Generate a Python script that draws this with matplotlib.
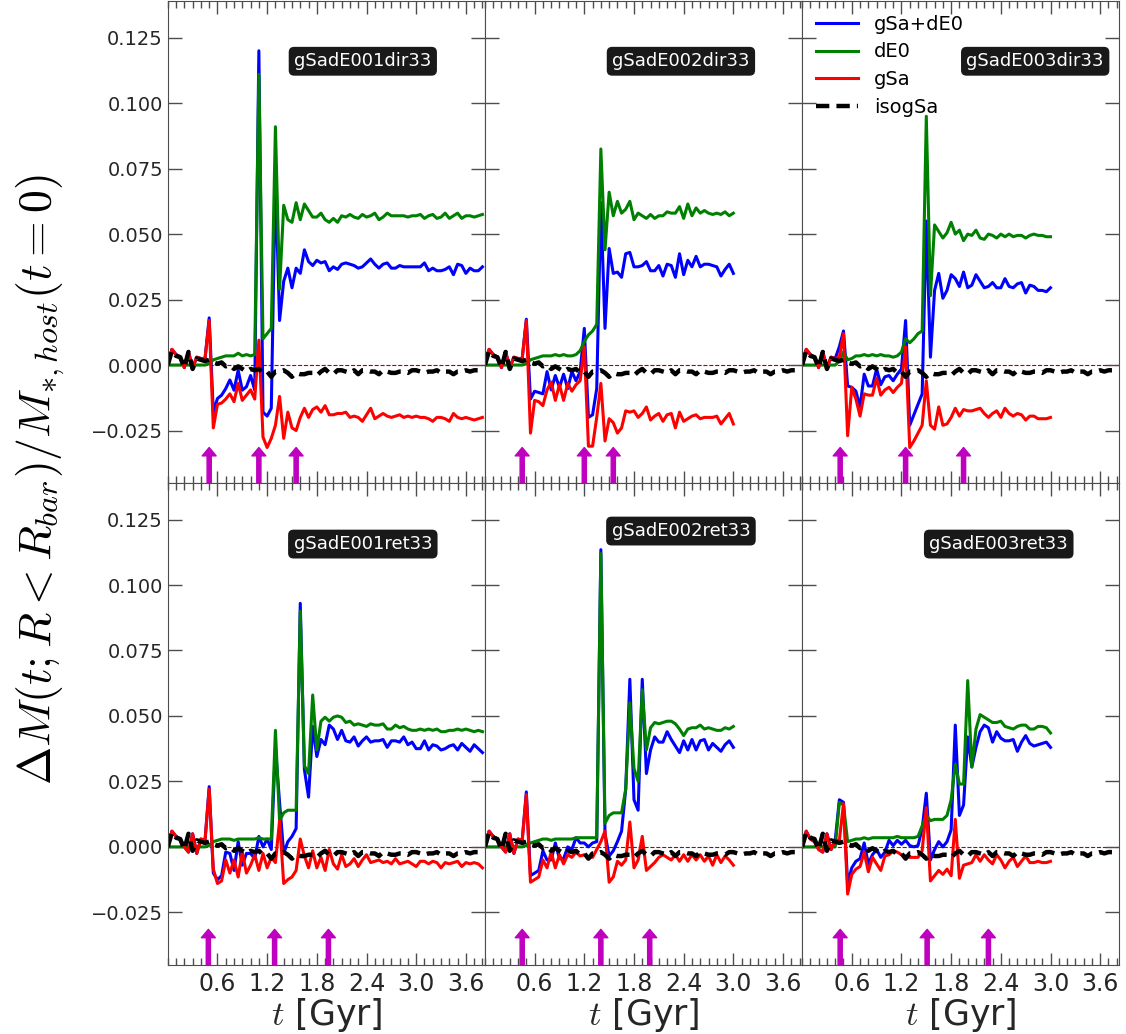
import numpy as np
import matplotlib
matplotlib.use("Agg")
import matplotlib.pyplot as plt
from matplotlib.ticker import MultipleLocator

plt.rcParams['font.family'] = 'DejaVu Sans'
plt.rcParams['mathtext.fontset'] = 'cm'

# time step of the snapshots [Gyr]
dt = 0.05

# all values below are in units of 1e-3
iso_gsa = [0, 5.5, 3.5, 3, -1, 5, -1.5, 2.5, 2, 1.5,
           2, 1, 0.5, 1, -0.5, 0, -1.5, -0.5, -1.5, -2.5,
           -1.5, -2, -1.5, -3, -2.5, -4.5, -2.5, -2.5, -2, -3,
           -4.5, -3, -3.5, -3.5, -3, -3, -4, -2.5, -1.5, -3,
           -3.5, -2, -2, -2.5, -3, -2, -3.5, -2, -2, -2.5,
           -2.5, -3.5, -2, -2.5, -3, -3, -2.5, -2.5, -3, -2,
           -2, -2.5, -3, -2.5, -2.5, -2, -3, -2.5, -2.5, -3.5,
           -2.5, -2.5, -2, -2.5, -2, -2]

# gSadE001dir33
blue_dir1 = [0, 6, 4, 3, -1, 5, -1, 3, 2.5, 2.5,
             18, -18, -12.8, -11.5, -9, -5.7, -9.6, -2, -9.6, -8.3,
             -4, -9.6, 120, -18, -19.5, -16.5, 72, 17, 32, 37,
             29.5, 37, 35, 44, 39.5, 38, 40, 39, 39.5, 36,
             37.5, 36.5, 38.5, 39, 38.5, 38, 37, 37.5, 39, 40.5,
             38.5, 37, 38.5, 39, 37, 37, 38, 37.5, 37.5, 37.5,
             37.5, 37.5, 39, 36, 37, 36, 36, 36.5, 37.5, 34.5,
             38.5, 38, 35, 37, 36, 36, 37.5]
green_dir1 = [0, 0, 0, 0, 0, 0, 0, 0, 0, 0,
              0.5, 2, 2.5, 3, 3.5, 3.5, 3.5, 4.5, 3.5, 4,
              3.5, 4, 111, 10, 12, 14, 91, 29, 61, 55.5,
              54.5, 62, 55.5, 61.5, 59, 56.5, 56.5, 58, 55.5, 54.5,
              56, 54.5, 57, 56.5, 57.5, 56.5, 56, 57.5, 56.5, 57,
              58, 55.5, 56.5, 58, 57, 57, 57, 57, 56.5, 57,
              57, 57.5, 56, 57, 57.5, 56, 56.5, 58, 56, 57,
              58, 56, 57, 57, 56.5, 57, 57.5]
red_dir1 = [0, 6, 4, 3, -1, 5, -1, 3, 2.5, 2.5,
            17, -24, -15, -14.5, -13, -11, -14, -7, -13.5, -11.5,
            -9.5, -13, 9.5, -27.5, -31.5, -28, -23, -12, -28, -18,
            -24, -25, -20, -16.5, -20, -17, -16, -18, -15.5, -19,
            -19, -18.5, -18.5, -18, -20, -19.5, -20, -21.5, -19, -16.5,
            -20.5, -19.5, -18.5, -19.5, -20, -19.5, -19, -20, -19.5, -20,
            -19.5, -20, -20, -20.5, -21.5, -20, -20, -20.5, -21.5, -18.5,
            -20, -20.5, -20, -20.5, -21, -20.5, -20]
arrows_dir1 = [0.5, 1.1, 1.55]

# gSadE002dir33
blue_dir2 = [0, 6, 4, 3, -1, 5, -1, 3, 2.5, 2.5,
             17.5, -13, -10, -10.5, -11, -2.5, -9.5, -4, -8.5, -3.5,
             -9, -2.5, -6, -2.5, 14, -20, -19, -9, 62, 14,
             44.5, 35, 35.5, 33.5, 42.5, 43, 37.5, 37.5, 38, 39.5,
             36, 36, 38, 34, 38.5, 38, 33.5, 42.5, 34.5, 40,
             37.5, 41.5, 37.5, 38.5, 38.5, 38, 37.5, 34, 36.5, 38.5,
             35]
green_dir2 = [0, 0, 0, 0, 0, 0, 0, 0, 0, 0,
              0.5, 2, 2.5, 3, 3.5, 3.5, 3.5, 4, 3.5, 4,
              3.5, 3.5, 4, 5.5, 9, 11.5, 13, 15.5, 82.5, 44,
              66, 57, 62.5, 58, 59.5, 62.5, 55.5, 58, 57, 56,
              57.5, 56, 57, 57, 58.5, 58, 58, 60.5, 56, 61.5,
              57, 60, 58, 59, 58, 57.5, 58, 57.5, 58.5, 57,
              58]
red_dir2 = [0, 6, 4, 3, -1, 5, -1, 3, 2.5, 2.5,
            17, -26, -13.5, -14, -15.5, -9.5, -6.5, -13.5, -7.5, -13.5,
            -7, -10, -7.5, -6, 7, -31, -31, -20, -7, -29,
            -20.5, -22, -26, -24, -17.5, -18, -17.5, -20, -18.5, -16,
            -21, -19.5, -18.5, -21.5, -19, -18.5, -24, -18, -21.5, -20.5,
            -19.5, -19, -20.5, -20, -20, -20, -19.5, -22.5, -20.5, -18.5,
            -22.5]
arrows_dir2 = [0.45, 1.2, 1.55]

# gSadE003dir33
blue_dir3 = [0, 6, 4, 3, -1, 5, -1, 3, 2.5, 7,
             13, -8, -8.5, -10, -16, -3.5, -8, -8, -1.5, -7.5,
             -4.5, -4, -6, -3.5, -1.5, 17, -23, -19, -15, -11,
             55, 3, 28.5, 35, 25.5, 28.5, 34.5, 33, 30, 35.5,
             29.5, 30.5, 34.5, 32, 29.5, 30, 31.5, 29.5, 29.5, 33,
             30, 29.5, 31, 31.5, 27.5, 30.5, 30, 28.5, 28.5, 28,
             29.5]
green_dir3 = [0, 0, 0, 0, 0, 0, 0, 0, 0, 1.5,
              5, 2, 2.5, 3.5, 3.5, 4, 3.5, 4, 3.5, 4,
              3.5, 3.5, 3, 3.5, 5, 10, 8.5, 10, 12, 13,
              95, 26.5, 53.5, 51, 48.5, 50.5, 54.5, 50, 51.5, 47.5,
              50, 49.5, 51.5, 48.5, 48, 50, 49.5, 48.5, 50, 49,
              50, 49, 49.5, 49.5, 48.5, 49.5, 50, 49.5, 49.5, 49,
              49]
red_dir3 = [0, 6, 4, 3, -1, 5, -1, 3, 2.5, 3,
            12, -27, -8.5, -13, -19.5, -11, -11.5, -11.5, -5, -11.5,
            -9.5, -8.5, -10.5, -8.5, -7, 7, -31.5, -29, -26, -23,
            -6, -23, -24.5, -16, -23, -22.5, -20, -16.5, -19.5, -17,
            -17.5, -17.5, -17, -16.5, -18.5, -20, -18.5, -17.5, -20, -16.5,
            -18.5, -19.5, -18.5, -19, -21, -19.5, -19.5, -20.5, -20.5, -20.5,
            -20]
arrows_dir3 = [0.46, 1.25, 1.95]

# gSadE001ret33
blue_ret1 = [0, 6, 4, 3, 0, -2, 5, -2.5, 3, 2.5,
             23, -10, -12.5, -11, -2, -2.5, -9, 2, -7, -2.5,
             -2.5, -4.5, 4, 0, 3, -1, 38, 17, -2.5, 2,
             4, 7, 93, 29.5, 19, 46, 34.5, 41, 39, 46.5,
             45, 41, 44.5, 40.5, 40, 42, 38.5, 40.5, 42, 40,
             40.5, 40.5, 41, 38, 40.5, 40.5, 40, 42, 39, 40,
             37.5, 37.5, 40.5, 37, 39, 38.5, 37, 37.5, 38.5, 39,
             37, 39.5, 38, 36.5, 39, 37.5, 36]
green_ret1 = [0, 0, 0, 0, 0, 0, 0, 0, 0, 0,
              0.5, 2, 2.5, 3, 3, 3, 2.5, 3, 3, 3,
              3, 3, 3.5, 3, 3, 3, 44.5, 10, 13, 14,
              14, 14, 90, 31, 28, 58, 37, 48, 49.5, 48,
              49.5, 50, 49.5, 47.5, 48, 46.5, 47, 46.5, 46, 47,
              46.5, 46.5, 47, 45, 45, 46.5, 45.5, 46, 45, 44.5,
              44.5, 45, 44.5, 45, 44.5, 45, 44, 44, 44.5, 44.5,
              45, 44.5, 45, 44.5, 44, 44.5, 44]
red_ret1 = [0, 6, 4, 3, 0, -2, 5, -2.5, 3, 2.5,
            22, -8.5, -14, -13, -5, -10, -5, -11.5, -2, -10,
            -7, -3, -9, -2.5, -8, -4, -6, 10, -14, -12.5,
            -11.5, -9, 3, -3.5, -8, -1.5, -8, -4, -9, -1,
            -6.5, -8.5, -3, -7.5, -6.5, -4.5, -7.5, -5, -3, -6,
            -5.5, -5, -6, -5.5, -6.5, -4.5, -6.5, -6, -5.5, -6.5,
            -7.5, -5.5, -5.5, -6.5, -5.5, -6, -8, -6, -6.5, -6,
            -5.5, -7.5, -6, -6.5, -6, -6.5, -8]
arrows_ret1 = [0.49, 1.29, 1.94]

# gSadE002ret33
blue_ret2 = [0, 6, 4, 3, 0, -2, 5, -2.5, 3, 2.5,
             21, -11, -10, -9, -1.5, -5, -5, 1.5, -4.5, -4.5,
             0, -1, 3.5, 1.5, 1.5, 0, 1.5, 2, 113.5, 5,
             -3.5, -1.5, 2, 6, 22, 64, 18, 14, 64, 28,
             37, 42, 40, 40, 44, 41, 38.5, 36, 40.5, 37,
             41, 37, 40.5, 41, 37, 39.5, 38, 36.5, 39, 40.5,
             38]
green_ret2 = [0, 0, 0, 0, 0, 0, 0, 0, 0, 0,
              0.5, 1.5, 2, 2.5, 3, 3, 2.5, 3, 3, 3,
              3, 3, 3.5, 3.5, 3.5, 3.5, 3.5, 3.5, 112, 9,
              12, 13, 13, 13, 22, 55, 30, 25, 60, 37,
              45.5, 47.5, 47, 47.5, 48, 48, 47, 45, 42.5, 45,
              45.5, 45.5, 46.5, 45, 45.5, 45, 44.5, 44.5, 45.5, 45,
              46]
red_ret2 = [0, 6, 4, 3, 0, -2, 5, -2.5, 3, 2.5,
            20, -13.5, -12.5, -11.5, -5, -8, -2, -8, -3, -6.5,
            -3, -4, -2, -3.5, -3, -4, -4, -1, 2, 6,
            -13.5, -11.5, -5.5, -7, -5, 9.5, -8, -5, 4, -9,
            -7.5, -6, -4, -3, -4, -5, -3, -5.5, -3, -5.5,
            -3, -5, -3, -5.5, -3.5, -7, -3, -6, -3.5, -5,
            -7]
arrows_ret2 = [0.45, 1.4, 1.99]

# gSadE003ret33
blue_ret3 = [0, 6, 3, 2, -1, -2, 5, -1, 2.5, 18,
             17, -14, -8, -5.5, -4.5, 1.5, -6.5, -3, -1, -4,
             -2, 2.5, 0.5, 2.5, 1, 2.5, 0.5, 0, 0.5, 7,
             20.5, -5, -1, 2, 0, 2, 6.5, 46.5, 12, 16,
             42, 30.5, 38, 44, 46.5, 45.5, 40, 44, 41.5, 40.5,
             40.5, 41, 36.5, 40, 42.5, 39.5, 38.5, 39, 39.5, 40,
             38]
green_ret3 = [0, 0, 0, 0, 0, 0, 0, 0, 0, 17,
              16, 2, 2.5, 3, 3, 3.5, 3, 3.5, 3.5, 3.5,
              3.5, 3.5, 3.5, 4, 3.5, 3.5, 3.5, 3.5, 4, 8,
              12, 10, 10.5, 10.5, 10.5, 12, 18, 31.5, 24, 24,
              63.5, 30.5, 45, 50.5, 49.5, 48.5, 47.5, 47.5, 48, 46,
              45.5, 45, 46, 46.5, 46.5, 45, 45, 46, 46, 45.5,
              43.5]
red_ret3 = [0, 6, 3, 2, -1, -2, 5, -1, 2.5, 2.5,
            16.5, -18, -10.5, -8.5, -7.5, -2, -9.5, -4, -6.5, -9,
            -3.5, -3, -1.5, -2, -3, -3.5, -4, -4, -4, -1.5,
            15, -13, -11, -9, -10.5, -8.5, -11, 10.5, -12, -7,
            -6.5, -6, -3, -5.5, -3, -5, -6.5, -3, -5, -8,
            -5.5, -4, -7.5, -5.5, -3.5, -6, -6, -5.5, -6, -6,
            -5.5]
arrows_ret3 = [0.46, 1.51, 2.25]

names = ["gSadE001dir33", "gSadE002dir33", "gSadE003dir33",
         "gSadE001ret33", "gSadE002ret33", "gSadE003ret33"]
label_pos = [(0.615, 0.875), (0.618, 0.875), (0.735, 0.875),
             (0.615, 0.873), (0.618, 0.90), (0.62, 0.873)]
xticks = [0.6, 1.2, 1.8, 2.4, 3.0, 3.6]
yticks = [-0.025, 0.0, 0.025, 0.05, 0.075, 0.1, 0.125]
ylim = (-0.045, 0.139)

panels = [(blue_dir1, green_dir1, red_dir1, arrows_dir1),
          (blue_dir2, green_dir2, red_dir2, arrows_dir2),
          (blue_dir3, green_dir3, red_dir3, arrows_dir3),
          (blue_ret1, green_ret1, red_ret1, arrows_ret1),
          (blue_ret2, green_ret2, red_ret2, arrows_ret2),
          (blue_ret3, green_ret3, red_ret3, arrows_ret3)]

fig, axes = plt.subplots(2, 3, figsize=(11.26, 10.34), dpi=100, sharex=True, sharey=True)
fig.subplots_adjust(left=0.149, right=0.994, bottom=0.067, top=0.999, wspace=0, hspace=0)

t_iso = np.arange(len(iso_gsa)) * dt
for i, ax in enumerate(axes.flat):
    blue, green, red, arrows = panels[i]
    t = np.arange(len(blue)) * dt
    ax.axhline(0, color='#b00000', lw=0.8, ls='--', zorder=1)
    ax.plot(t, np.array(blue) / 1000, color='blue', lw=2.2, label='gSa+dE0')
    ax.plot(t, np.array(green) / 1000, color='green', lw=2.2, label='dE0')
    ax.plot(t, np.array(red) / 1000, color='red', lw=2.2, label='gSa')
    ax.plot(t_iso, np.array(iso_gsa) / 1000, color='black', lw=3.2, ls=(0, (3, 1.6)), label='isogSa')
    # passages of the satellite
    for ta in arrows:
        ax.annotate('', xy=(ta, -0.0315), xytext=(ta, ylim[0]),
                    arrowprops=dict(facecolor='m', edgecolor='m', width=3,
                                    headwidth=10, headlength=6, shrink=0))
    ax.text(label_pos[i][0], label_pos[i][1], names[i], transform=ax.transAxes,
            ha='center', va='center', color='white', fontsize=13,
            bbox=dict(boxstyle='round,pad=0.3', facecolor='black', edgecolor='none', alpha=0.9))

    ax.set_xlim(0, 3.83)
    ax.set_ylim(*ylim)
    ax.set_xticks(xticks)
    ax.set_yticks(yticks)
    ax.xaxis.set_minor_locator(MultipleLocator(0.1))
    ax.tick_params(which='both', direction='in', top=True, right=True, colors='0.3',
                   labelcolor='#262626')
    ax.tick_params(axis='y', which='major', length=10, width=1, labelsize=14)
    ax.tick_params(axis='x', which='major', length=9, width=1, labelsize=17, pad=5)
    ax.tick_params(axis='x', which='minor', length=5, width=1)
    for s in ax.spines.values():
        s.set_color('0.3')
    if i >= 3:
        ax.set_xlabel('$t$ [Gyr]', fontsize=25, color='#262626', labelpad=0)

axes[0, 2].legend(loc='upper left', frameon=False, fontsize=14, handlelength=2.2,
                  borderaxespad=0.3, labelspacing=0.45)

fig.text(0.036, 0.536, r'$\Delta M(t;R<R_{bar})/M_{*,host}(t=0)$', rotation=90,
         fontsize=33, ha='center', va='center')

fig.savefig('out.png', dpi=100)
